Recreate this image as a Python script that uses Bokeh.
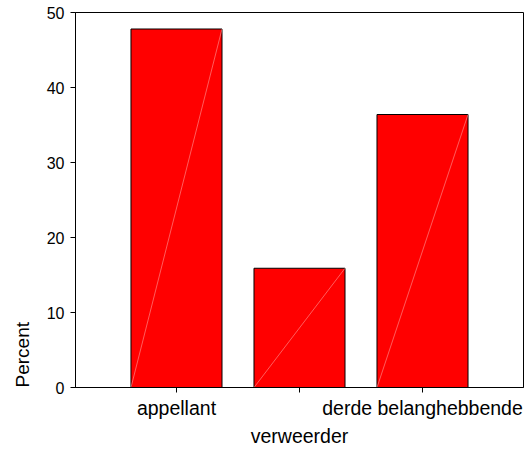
from bokeh.plotting import figure
from bokeh.models import FixedTicker, LinearAxis, Range1d, ColumnDataSource, Title
from bokeh.embed import file_html
from bokeh.resources import INLINE

categories = ["appellant", "verweerder", "derde belanghebbende"]
percent = [47.8, 15.9, 36.4]
y_ticks = [0, 10, 20, 30, 40, 50]
y_title = "Percent"

xpos = [i + 1 for i in range(len(categories))]
bar_w = 0.74
X0, X1 = 0.179, 3.821

src = ColumnDataSource(dict(
    x=xpos, top=percent,
    x0=[x - bar_w / 2 for x in xpos], x1=[x + bar_w / 2 for x in xpos],
    y0=[0] * len(xpos),
))

FONT = "Liberation Sans"

p = figure(width=526, height=449, output_backend="svg", toolbar_location=None,
           x_range=Range1d(X0, X1), y_range=Range1d(0, 50),
           min_border_left=75, min_border_right=3, min_border_top=12, min_border_bottom=62)
p.background_fill_color = "white"
p.border_fill_color = "white"
p.outline_line_color = "black"
p.outline_line_width = 1
p.xgrid.visible = False
p.ygrid.visible = False

p.vbar(x="x", top="top", width=bar_w, bottom=0, source=src,
       fill_color="#FF0000", line_color="black", line_width=1)
p.segment(x0="x0", y0="y0", x1="x1", y1="top", source=src,
          line_color="#ff9a9a", line_width=0.6)

# main x axis
xa = p.xaxis[0]
xa.ticker = FixedTicker(ticks=xpos)
xa.major_label_overrides = {xpos[0]: categories[0], xpos[1]: "", xpos[2]: categories[2]}
xa.major_tick_in = 0
xa.major_tick_out = 5
xa.minor_tick_line_color = None
xa.axis_line_color = "black"
xa.major_tick_line_color = "black"
xa.major_label_text_font = FONT
xa.major_label_text_font_size = "19.5px"
xa.major_label_text_color = "black"
xa.major_label_standoff = 4

# staggered label for middle category
xa2 = LinearAxis(ticker=FixedTicker(ticks=[xpos[1]]),
                 major_label_overrides={xpos[1]: categories[1]})
xa2.axis_line_color = None
xa2.major_tick_line_color = None
xa2.minor_tick_line_color = None
xa2.major_tick_in = 0
xa2.major_tick_out = 0
xa2.major_label_text_font = FONT
xa2.major_label_text_font_size = "19.5px"
xa2.major_label_text_color = "black"
xa2.major_label_standoff = 3
p.add_layout(xa2, "below")

ya = p.yaxis[0]
ya.ticker = FixedTicker(ticks=y_ticks)
ya.major_tick_in = 0
ya.major_tick_out = 5
ya.minor_tick_line_color = None
ya.axis_line_color = "black"
ya.major_tick_line_color = "black"
ya.major_label_text_font = FONT
ya.major_label_text_font_size = "16px"
ya.major_label_text_color = "black"
ya.major_label_standoff = 6

# y-axis title, aligned to the bottom of the axis (as in the original)
p.add_layout(Title(text=y_title, align="left", vertical_align="top", text_font=FONT,
                   text_font_size="19px", text_font_style="normal", text_color="black",
                   standoff=18), "left")

open("out.html", "w").write(file_html(p, INLINE))
